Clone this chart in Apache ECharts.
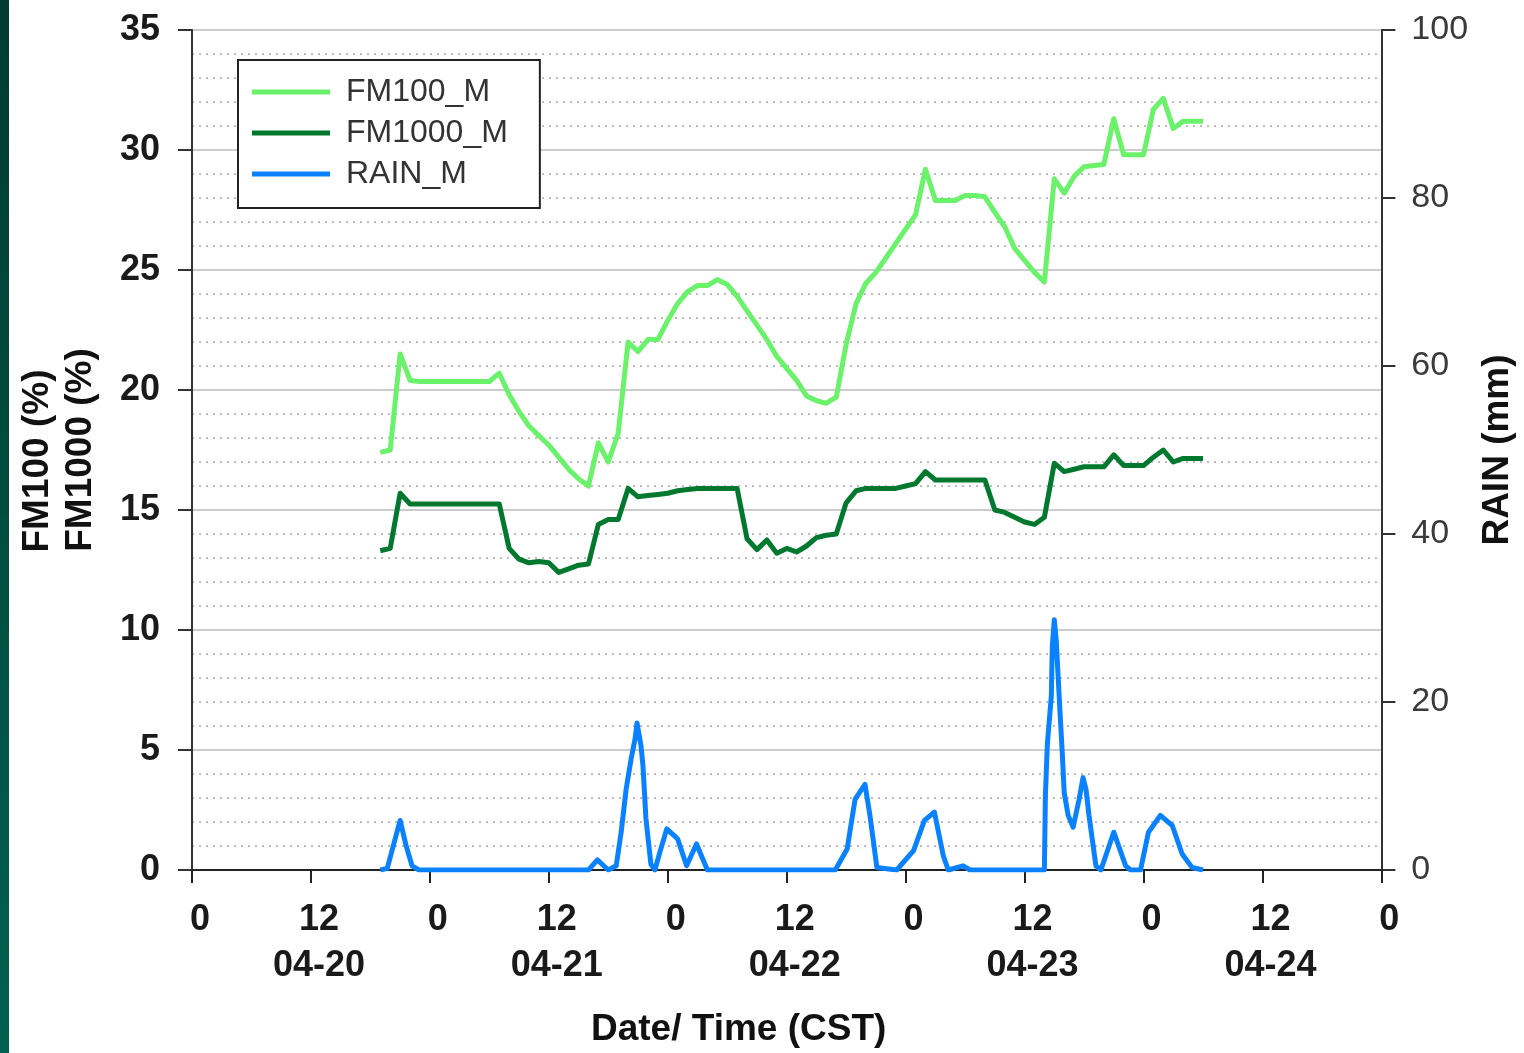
<!DOCTYPE html>
<html>
<head>
<meta charset="utf-8">
<script src="https://cdn.jsdelivr.net/npm/echarts@6/dist/echarts.min.js"></script>
<style>
html, body { margin: 0; padding: 0; background: #fff; overflow: hidden; }
#main { width: 1524px; height: 1053px; }
#edge { position: absolute; left: 0; top: 0; width: 9px; height: 1053px; background: linear-gradient(#003b31, #00614f); }
</style>
</head>
<body>
<div id="main"></div>
<div id="edge"></div>
<script>
// hours counted from 04-20 00:00 CST
var hours = [19, 20, 21, 22, 23, 24, 25, 26, 27, 28, 29, 30,
    31, 32, 33, 34, 35, 36, 37, 38, 39, 40,
    41, 42, 43, 44, 45, 46, 47, 48, 49, 50,
    51, 52, 53, 54, 55, 56, 57, 58, 59, 60,
    61, 62, 63, 64, 65, 66, 67, 68, 69, 70,
    71, 72, 73, 74, 75, 76, 77, 78, 79, 80,
    81, 82, 83, 84, 85, 86, 87, 88, 89, 90,
    91, 92, 93, 94, 95, 96, 97, 98, 99, 100,
    101, 102];

var fm100 = [17.4, 17.5, 21.5, 20.4, 20.35, 20.35, 20.35, 20.35, 20.35, 20.35, 20.35, 20.35,
    20.7, 19.8, 19.1, 18.5, 18.1, 17.7, 17.2, 16.7, 16.3, 16.0,
    17.8, 17.0, 18.2, 22.0, 21.6, 22.1, 22.1, 22.9, 23.6, 24.1,
    24.35, 24.35, 24.6, 24.4, 23.9, 23.3, 22.7, 22.1, 21.4, 20.9,
    20.4, 19.75, 19.55, 19.45, 19.7, 21.9, 23.6, 24.45, 24.9, 25.5,
    26.1, 26.7, 27.3, 29.2, 27.9, 27.9, 27.9, 28.1, 28.1, 28.05,
    27.4, 26.8, 25.9, 25.4, 24.9, 24.5, 28.8, 28.2, 28.9, 29.3,
    29.35, 29.4, 31.3, 29.8, 29.8, 29.8, 31.7, 32.15, 30.9, 31.2,
    31.2, 31.2];

var fm1000 = [13.3, 13.4, 15.7, 15.25, 15.25, 15.25, 15.25, 15.25, 15.25, 15.25, 15.25, 15.25,
    15.25, 13.4, 12.95, 12.8, 12.85, 12.8, 12.4, 12.55, 12.7, 12.75,
    14.4, 14.6, 14.6, 15.9, 15.55, 15.6, 15.65, 15.7, 15.8, 15.85,
    15.9, 15.9, 15.9, 15.9, 15.9, 13.8, 13.35, 13.75, 13.2, 13.4,
    13.25, 13.5, 13.85, 13.95, 14.0, 15.3, 15.8, 15.9, 15.9, 15.9,
    15.9, 16.0, 16.1, 16.6, 16.25, 16.25, 16.25, 16.25, 16.25, 16.25,
    15.0, 14.9, 14.7, 14.5, 14.4, 14.7, 16.95, 16.6, 16.7, 16.8,
    16.8, 16.8, 17.3, 16.85, 16.85, 16.85, 17.2, 17.5, 17.0, 17.15,
    17.15, 17.15];

// rain is logged finer than hourly, so it keeps its own time list
var rainHours = [19, 19.7, 20.4, 21, 21.6, 22.2, 22.9,
    40, 40.9, 42, 42.8, 43.3, 43.8, 44.3, 44.7, 44.9, 45.3,
    45.5, 45.8, 46.3, 46.7, 47.2, 47.9, 49, 49.9, 50.9, 52,
    64.9, 66.1, 66.9, 67.9, 68.4, 69.1, 71.1, 72.8, 73.9, 74.9,
    75.8, 76.3, 77.8, 78.5, 86, 86.1, 86.3, 86.7, 86.8, 87,
    87.2, 87.4, 87.6, 87.8, 88, 88.4, 88.9, 89.5, 89.9, 90.2,
    90.5, 91.2, 91.7, 93, 94.2, 94.7, 95.7, 96.5, 97.7, 98.9,
    99.9, 100.9, 102];
var rain = [0, 0.2, 3.3, 5.9, 2.9, 0.5, 0,
    0, 1.2, 0, 0.5, 4.5, 9.6, 13.2, 15.6, 17.5, 14.8,
    12.4, 6.1, 0.7, 0, 2.1, 4.9, 3.7, 0.5, 3.1, 0,
    0, 2.5, 8.4, 10.2, 6.5, 0.3, 0, 2.3, 5.9, 6.9,
    1.7, 0, 0.5, 0, 0, 8.8, 15.0, 20.7, 26.7, 29.8,
    27.3, 22.7, 18.3, 14.0, 9.2, 6.5, 5.1, 8.4, 11.0, 9.6,
    6.5, 0.5, 0, 4.5, 0.5, 0, 0, 4.5, 6.5, 5.3,
    1.9, 0.3, 0];

var dayLabels = ['04-20', '04-21', '04-22', '04-23', '04-24'];
var seriesNames = ['FM100_M', 'FM1000_M', 'RAIN_M'];

var font = "'Liberation Sans', Arial, sans-serif";

function pairs(xs, ys) {
    return xs.map(function (x, i) { return [x, ys[i]]; });
}

var myChart = echarts.init(document.getElementById('main'));

var option = {
    backgroundColor: '#fff',
    animation: false,
    textStyle: { fontFamily: font },
    grid: { left: 192, right: 131, top: 30, bottom: 181 },
    legend: {
        orient: 'vertical',
        left: 238,
        top: 60,
        padding: [16, 32, 18, 14],
        itemGap: 9,
        itemWidth: 78,
        itemHeight: 5,
        icon: 'rect',
        borderColor: '#222',
        borderWidth: 2,
        backgroundColor: '#fff',
        textStyle: { fontSize: 32, color: '#333', lineHeight: 32, padding: [0, 0, 0, 11], fontFamily: font },
        data: seriesNames
    },
    xAxis: {
        type: 'value',
        min: 0,
        max: 120,
        interval: 12,
        axisLine: { lineStyle: { color: '#222', width: 2 } },
        axisTick: { length: 13, lineStyle: { color: '#222', width: 2 } },
        splitLine: { show: false },
        axisLabel: {
            showMinLabel: true,
            showMaxLabel: true,
            margin: 27,
            fontSize: 36,
            lineHeight: 46,
            fontWeight: 'bold',
            color: '#1a1a1a',
            padding: [0, 0, 0, 16],
            formatter: function (v) {
                if (v % 24 === 12) {
                    return '12\n' + dayLabels[Math.floor(v / 24)];
                }
                return '0';
            }
        },
        name: 'Date/ Time (CST)',
        nameLocation: 'middle',
        nameGap: 141,
        nameTextStyle: { fontSize: 37, fontWeight: 'bold', color: '#111', padding: [0, 96, 0, 0] }
    },
    yAxis: [
        {
            type: 'value',
            position: 'left',
            min: 0,
            max: 35,
            interval: 5,
            axisLine: { show: true, lineStyle: { color: '#333', width: 2 } },
            axisTick: { show: true, length: 14, lineStyle: { color: '#333', width: 2 } },
            axisLabel: { margin: 32, fontSize: 36, fontWeight: 'bold', color: '#1a1a1a' },
            splitLine: { show: true, lineStyle: { color: '#cccccc', width: 2 } },
            minorTick: { show: false, splitNumber: 5 },
            minorSplitLine: { show: true, lineStyle: { color: '#bdbdbd', width: 2, type: [2, 5] } },
            name: '{a|FM100 (%)}\n{b|FM1000 (%)}',
            nameLocation: 'middle',
            nameRotate: 90,
            nameGap: 90,
            nameTextStyle: {
                rich: {
                    a: { fontSize: 37, fontWeight: 'bold', color: '#111', lineHeight: 43, padding: [0, 22, 0, 0], fontFamily: font },
                    b: { fontSize: 37, fontWeight: 'bold', color: '#111', lineHeight: 43, fontFamily: font }
                }
            }
        },
        {
            type: 'value',
            position: 'right',
            min: 0,
            max: 100,
            interval: 20,
            axisLine: { show: true, lineStyle: { color: '#333', width: 2 } },
            axisTick: { show: true, length: 14, lineStyle: { color: '#333', width: 2 } },
            axisLabel: { margin: 30, fontSize: 34, color: '#3a3a3a' },
            splitLine: { show: false },
            name: 'RAIN (mm)',
            nameLocation: 'middle',
            nameRotate: 90,
            nameGap: 94,
            nameTextStyle: { fontSize: 37, fontWeight: 'bold', color: '#111' }
        }
    ],
    series: [
        {
            name: seriesNames[0],
            type: 'line',
            yAxisIndex: 0,
            showSymbol: false,
            symbol: 'none',
            color: '#6af26a',
            lineStyle: { width: 5, join: 'round' },
            data: pairs(hours, fm100)
        },
        {
            name: seriesNames[1],
            type: 'line',
            yAxisIndex: 0,
            showSymbol: false,
            symbol: 'none',
            color: '#00792f',
            lineStyle: { width: 5, join: 'round' },
            data: pairs(hours, fm1000)
        },
        {
            name: seriesNames[2],
            type: 'line',
            yAxisIndex: 1,
            showSymbol: false,
            symbol: 'none',
            color: '#0a82ff',
            lineStyle: { width: 5, join: 'round' },
            data: pairs(rainHours, rain)
        }
    ]
};

myChart.setOption(option);
</script>
</body>
</html>
